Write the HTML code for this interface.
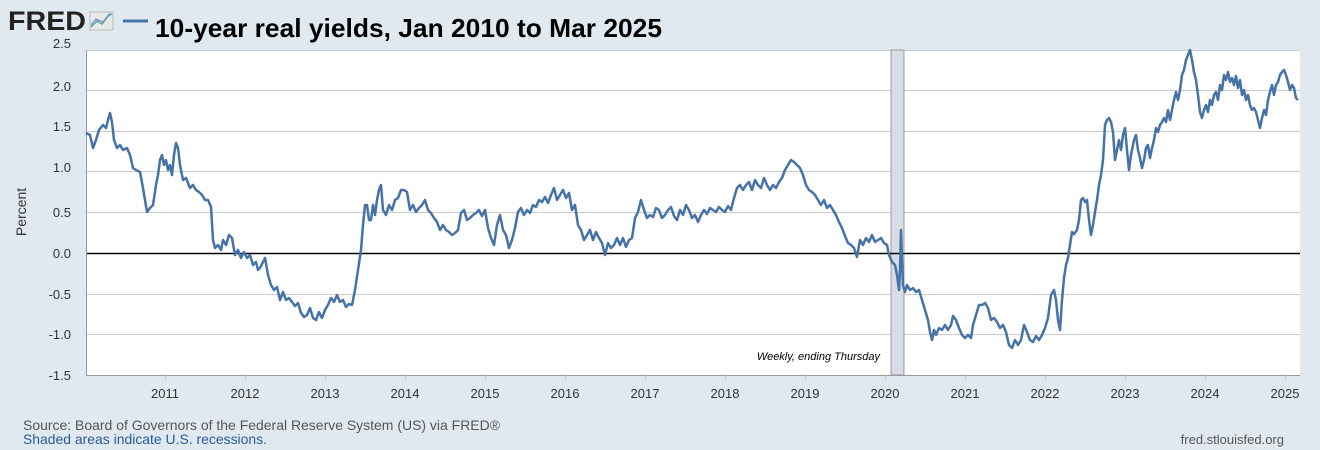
<!DOCTYPE html>
<html><head><meta charset="utf-8"><style>
body{margin:0;background:#e1e9f0;width:1320px;height:450px;overflow:hidden;font-family:"Liberation Sans",sans-serif}
</style></head><body>
<svg width="1320" height="450" xmlns="http://www.w3.org/2000/svg" style="position:absolute;left:0;top:0">
<rect width="1320" height="450" fill="#e1e9f0"/>
<text x="8" y="30" font-family="Liberation Sans" font-weight="bold" font-size="27" fill="#222" textLength="78" lengthAdjust="spacingAndGlyphs">FRED</text>
<rect x="90" y="12" width="23" height="18" fill="#e8e8e8" stroke="#bbb"/>
<polyline points="91,27 97,21 102,24 108,16 112,14" fill="none" stroke="#5a9" stroke-width="1.5"/>
<polyline points="91,25 96,19 103,22 110,13" fill="none" stroke="#68c" stroke-width="1"/>
<line x1="123" y1="21" x2="148" y2="21" stroke="#4572a7" stroke-width="3"/>
<text x="155" y="37" font-family="Liberation Sans" font-weight="bold" font-size="26" fill="#000" textLength="507" lengthAdjust="spacingAndGlyphs">10-year real yields, Jan 2010 to Mar 2025</text>
<rect x="86" y="50" width="1214" height="325" fill="#fff"/>
<g stroke="#ccc" stroke-width="1">
<line x1="86" y1="90.5" x2="1300" y2="90.5"/><line x1="86" y1="131.5" x2="1300" y2="131.5"/>
<line x1="86" y1="171.5" x2="1300" y2="171.5"/><line x1="86" y1="212.5" x2="1300" y2="212.5"/>
<line x1="86" y1="294.5" x2="1300" y2="294.5"/><line x1="86" y1="334.5" x2="1300" y2="334.5"/>
<line x1="86" y1="50.5" x2="1300" y2="50.5"/>
</g>
<rect x="891" y="50" width="13" height="325" fill="#d8dde4" stroke="#888" stroke-width="0.8"/>
<line x1="86" y1="253.5" x2="1300" y2="253.5" stroke="#000" stroke-width="1.5"/>
<line x1="86.5" y1="50" x2="86.5" y2="375" stroke="#999"/>
<line x1="86" y1="375.5" x2="1300" y2="375.5" stroke="#999"/>
<g stroke="#ccc">
<line x1="165.5" y1="375" x2="165.5" y2="381"/><line x1="245.5" y1="375" x2="245.5" y2="381"/><line x1="325.5" y1="375" x2="325.5" y2="381"/><line x1="405.5" y1="375" x2="405.5" y2="381"/><line x1="485.5" y1="375" x2="485.5" y2="381"/><line x1="565.5" y1="375" x2="565.5" y2="381"/><line x1="645.5" y1="375" x2="645.5" y2="381"/><line x1="725.5" y1="375" x2="725.5" y2="381"/><line x1="805.5" y1="375" x2="805.5" y2="381"/><line x1="885.5" y1="375" x2="885.5" y2="381"/><line x1="965.5" y1="375" x2="965.5" y2="381"/><line x1="1045.5" y1="375" x2="1045.5" y2="381"/><line x1="1125.5" y1="375" x2="1125.5" y2="381"/><line x1="1205.5" y1="375" x2="1205.5" y2="381"/><line x1="1285.5" y1="375" x2="1285.5" y2="381"/>
</g>
<g font-size="13" fill="#333" text-anchor="end">
<text x="71" y="48">2.5</text><text x="71" y="91">2.0</text><text x="71" y="131">1.5</text><text x="71" y="172">1.0</text><text x="71" y="217">0.5</text><text x="71" y="258">0.0</text><text x="71" y="299">-0.5</text><text x="71" y="339">-1.0</text><text x="71" y="380">-1.5</text>
</g>
<g font-size="13" fill="#333" text-anchor="middle">
<text x="165" y="398">2011</text><text x="245" y="398">2012</text><text x="325" y="398">2013</text><text x="405" y="398">2014</text><text x="485" y="398">2015</text><text x="565" y="398">2016</text><text x="645" y="398">2017</text><text x="725" y="398">2018</text><text x="805" y="398">2019</text><text x="885" y="398">2020</text><text x="965" y="398">2021</text><text x="1045" y="398">2022</text><text x="1125" y="398">2023</text><text x="1205" y="398">2024</text><text x="1285" y="398">2025</text>
</g>
<text x="26" y="212" font-size="14" fill="#333" text-anchor="middle" transform="rotate(-90 26 212)">Percent</text>
<text x="880" y="360" font-size="11" font-style="italic" fill="#000" text-anchor="end">Weekly, ending Thursday</text>
<polyline fill="none" stroke="#4572a7" stroke-width="2.5" stroke-linejoin="round" points="86,133 90,135 93,148 96,140 99,130 103,125 106,128 108,120 110,113 112,122 114,140 117,148 120,145 123,150 127,148 130,155 133,168 136,170 140,172 143,188 147,212 150,208 153,205 156,185 158,175 160,160 162,155 164,165 166,160 168,170 170,165 172,175 174,155 176,143 178,148 180,165 183,180 186,178 190,188 193,185 196,190 199,192 202,195 205,200 208,200 211,207 213,240 215,248 218,245 221,250 223,240 226,245 229,235 232,238 235,255 238,250 241,258 244,252 247,258 250,255 253,265 256,262 258,270 260,268 263,262 265,258 268,275 271,285 274,290 277,287 280,300 283,292 286,300 289,298 292,302 295,306 298,303 301,313 304,317 307,315 310,308 313,318 316,320 319,312 322,318 325,310 328,305 331,298 334,302 337,295 340,302 343,300 346,307 349,304 352,305 355,290 358,270 361,250 363,225 365,205 367,205 369,220 371,220 373,205 375,215 377,200 379,190 381,185 383,210 386,215 389,205 392,210 395,200 398,198 401,190 404,190 407,192 410,210 413,205 416,212 419,208 422,205 425,200 428,210 431,213 434,218 437,222 440,230 443,225 446,230 449,232 452,235 455,233 458,230 461,213 464,210 467,220 470,218 473,215 476,213 479,210 482,216 485,210 488,228 491,238 494,245 497,225 500,215 503,230 506,235 509,248 512,240 515,228 518,212 521,208 524,215 527,210 530,213 533,205 536,207 539,200 542,202 545,197 548,203 551,195 554,188 557,200 560,195 563,190 566,198 569,193 572,210 575,205 578,225 581,230 584,240 587,235 590,230 593,240 596,232 599,238 602,243 605,255 608,243 611,248 614,245 617,238 620,245 623,238 626,247 629,240 632,238 635,218 638,212 641,200 644,210 647,218 650,215 653,217 656,208 659,210 662,218 665,215 668,210 671,207 674,216 677,220 680,210 683,215 686,205 689,210 692,218 695,215 698,222 701,215 704,210 707,214 710,208 713,210 716,212 719,207 722,210 725,212 728,206 731,210 734,198 737,188 740,185 743,190 746,185 749,182 752,190 755,180 758,185 761,188 764,178 767,185 770,190 773,185 776,188 779,182 782,178 785,170 788,165 791,160 794,162 797,165 800,168 803,175 806,185 809,190 812,192 815,195 818,200 821,205 824,200 827,208 830,205 833,210 836,215 839,222 842,228 845,236 848,243 851,245 854,248 857,257 860,240 863,245 866,238 869,242 872,235 875,242 878,240 881,238 884,243 887,245 889,255 892,262 895,265 897,275 899,290 900,270 901,230 902,260 903,285 905,292 907,285 910,290 913,288 916,292 919,290 922,300 925,310 928,320 930,332 932,340 934,330 936,335 939,328 942,330 945,325 948,330 951,325 953,316 956,320 959,328 962,335 965,338 968,335 971,338 973,325 976,315 979,305 982,305 985,303 988,308 991,320 994,318 997,322 1000,328 1003,325 1006,332 1009,345 1012,348 1015,340 1018,345 1021,340 1024,325 1027,332 1030,340 1033,342 1036,336 1039,340 1042,335 1045,328 1048,318 1051,295 1054,290 1056,300 1058,320 1060,330 1062,300 1064,278 1066,265 1068,258 1070,245 1072,232 1074,234 1077,230 1079,220 1081,200 1083,198 1085,202 1087,200 1089,220 1091,235 1093,225 1095,212 1097,200 1099,185 1101,175 1103,160 1105,125 1107,120 1109,118 1111,122 1113,132 1115,160 1117,150 1119,140 1121,150 1123,135 1125,128 1127,150 1129,170 1131,155 1134,140 1136,135 1138,150 1140,158 1142,168 1144,160 1146,148 1148,145 1150,158 1152,148 1154,140 1156,128 1158,132 1160,125 1162,122 1164,118 1166,122 1168,110 1170,120 1172,110 1174,100 1176,92 1178,100 1180,90 1182,75 1184,70 1186,60 1188,55 1190,50 1192,60 1194,72 1196,80 1198,95 1200,112 1202,118 1204,110 1206,105 1208,112 1210,100 1212,105 1214,95 1216,92 1218,100 1220,85 1222,90 1224,75 1226,80 1228,72 1230,82 1232,78 1234,85 1236,76 1238,88 1240,80 1242,95 1244,90 1246,100 1248,95 1250,105 1252,110 1254,108 1256,112 1258,120 1260,128 1262,118 1264,110 1266,115 1268,100 1270,92 1272,85 1274,95 1276,85 1278,82 1280,75 1282,72 1284,70 1286,75 1288,82 1290,90 1292,85 1294,88 1296,98 1298,100"/>
<text x="23" y="430" font-size="14" fill="#555" textLength="477" lengthAdjust="spacingAndGlyphs">Source: Board of Governors of the Federal Reserve System (US) via FRED®</text>
<text x="23" y="444" font-size="14" fill="#2a5a9a" textLength="244" lengthAdjust="spacingAndGlyphs">Shaded areas indicate U.S. recessions.</text>
<text x="1284" y="444" font-size="13" fill="#555" text-anchor="end">fred.stlouisfed.org</text>
</svg>
</body></html>
